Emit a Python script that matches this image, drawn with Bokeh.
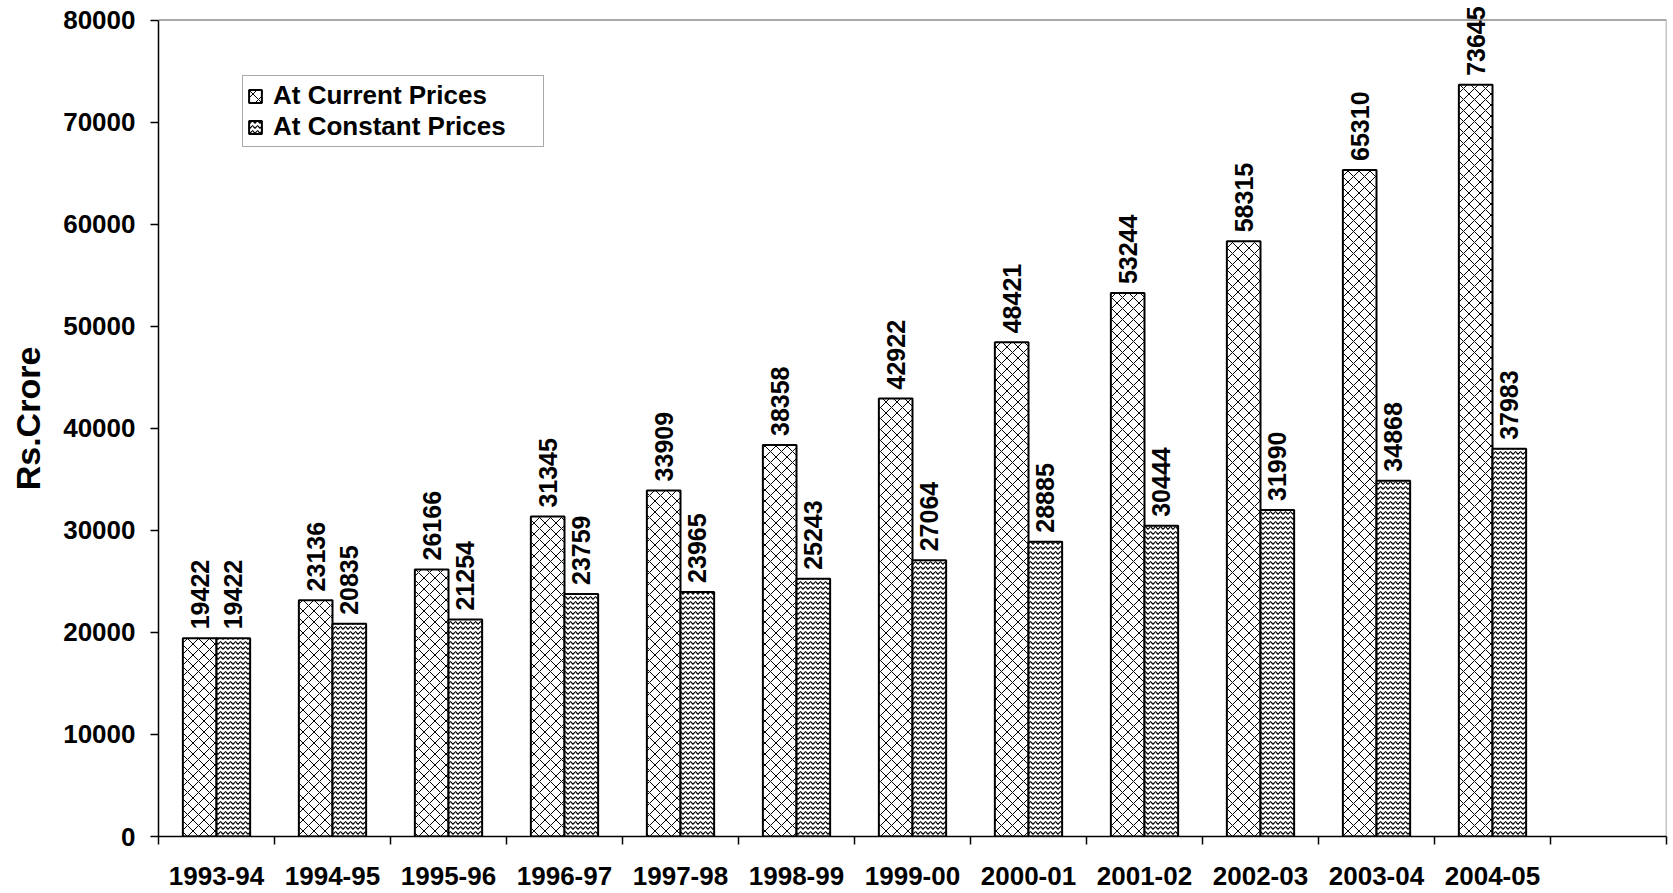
import numpy as np
from bokeh.plotting import figure
from bokeh.models import (ColumnDataSource, Range1d, FixedTicker, LabelSet,
                          Legend, LegendItem)
from bokeh.core.properties import value
from bokeh.embed import file_html
from bokeh.resources import INLINE

# Data
years = ["1993-94", "1994-95", "1995-96", "1996-97", "1997-98", "1998-99",
         "1999-00", "2000-01", "2001-02", "2002-03", "2003-04", "2004-05"]
current_prices = [19422, 23136, 26166, 31345, 33909, 38358,
                  42922, 48421, 53244, 58315, 65310, 73645]
constant_prices = [19422, 20835, 21254, 23759, 23965, 25243,
                   27064, 28885, 30444, 31990, 34868, 37983]
y_ticks = [0, 10000, 20000, 30000, 40000, 50000, 60000, 70000, 80000]

FONT = "Liberation Sans"
n_slots = len(years) + 1          # an empty slot is kept at the right end
bar_w = 0.29
centers = np.arange(len(years)) + 0.5
y_top = y_ticks[-1]
# headroom above the top tick so the tallest value label is not clipped
y_end = y_top / (1 - 19.5 / 836)

src = ColumnDataSource(dict(
    x_cur=centers - bar_w / 2,
    x_con=centers + bar_w / 2,
    cur=current_prices,
    con=constant_prices,
    cur_txt=[str(v) for v in current_prices],
    con_txt=[str(v) for v in constant_prices],
))

p = figure(width=1673, height=893, output_backend="svg", toolbar_location=None,
           x_range=Range1d(0, n_slots), y_range=Range1d(0, y_end),
           min_border_left=158, min_border_right=7, min_border_top=0,
           min_border_bottom=57)
p.xgrid.visible = False
p.ygrid.visible = False
p.outline_line_color = None
p.background_fill_color = "white"
p.border_fill_color = "white"

# Plot-area border on the top and right
p.line(x=[0, n_slots, n_slots], y=[y_top, y_top, 0],
       line_color="#8c8c8c", line_width=1.5)

# Bars: current prices (diagonal brick-like lattice)
cur_r = p.vbar(x="x_cur", top="cur", width=bar_w, source=src,
               fill_color="white", line_color="black", line_width=2,
               hatch_pattern="diagonal_cross", hatch_scale=11,
               hatch_color="black", hatch_weight=1)
# Bars: constant prices (dense weave)
con_r = p.vbar(x="x_con", top="con", width=bar_w, source=src,
               fill_color="white", line_color="black", line_width=2,
               hatch_pattern="horizontal_wave", hatch_scale=5,
               hatch_color="black", hatch_weight=1.2)

# Value labels above bars
for xcol, ycol, tcol in (("x_cur", "cur", "cur_txt"), ("x_con", "con", "con_txt")):
    p.add_layout(LabelSet(x=xcol, y=ycol, text=tcol, source=src, angle=np.pi / 2,
                          y_offset=9, text_align="left", text_baseline="middle",
                          text_font=value(FONT), text_font_style="bold",
                          text_font_size=value("25px"), text_color="black"))

# Y axis
yax = p.yaxis[0]
yax.ticker = FixedTicker(ticks=y_ticks)
yax.bounds = (0, y_top)
yax.minor_tick_line_color = None
yax.major_tick_out = 8
yax.major_tick_in = 0
yax.major_tick_line_width = 1.5
yax.axis_line_width = 1.5
yax.major_label_standoff = 15
yax.major_label_text_font = FONT
yax.major_label_text_font_style = "bold"
yax.major_label_text_font_size = "26px"
yax.major_label_text_color = "black"
yax.axis_label = "Rs.Crore"
yax.axis_label_text_font = FONT
yax.axis_label_text_font_style = "bold"
yax.axis_label_text_font_size = "34px"
yax.axis_label_standoff = 13
yax.axis_label_text_color = "black"

# X axis: labels at slot centres, ticks at slot boundaries
xax = p.xaxis[0]
xax.ticker = FixedTicker(ticks=list(centers), minor_ticks=list(range(n_slots + 1)))
xax.major_label_overrides = {float(c): y for c, y in zip(centers, years)}
xax.major_tick_line_color = None
xax.major_tick_out = 0
xax.major_tick_in = 0
xax.minor_tick_line_color = "black"
xax.minor_tick_line_width = 1.5
xax.minor_tick_out = 8
xax.minor_tick_in = 0
xax.axis_line_width = 1.5
xax.major_label_standoff = 22
xax.major_label_text_font = FONT
xax.major_label_text_font_style = "bold"
xax.major_label_text_font_size = "26px"
xax.major_label_text_color = "black"

legend = Legend(items=[LegendItem(label="At Current Prices", renderers=[cur_r]),
                       LegendItem(label="At Constant Prices", renderers=[con_r])],
                location=(84, 689), padding=4, spacing=0,
                glyph_width=16, glyph_height=16, label_standoff=10,
                label_height=26, label_width=266,
                label_text_font=FONT, label_text_font_style="bold",
                label_text_font_size="26px", label_text_color="black",
                border_line_color="#555555", border_line_width=1.2,
                background_fill_color="white", background_fill_alpha=1)
p.add_layout(legend, "center")

open("out.html", "w").write(file_html(p, INLINE))
